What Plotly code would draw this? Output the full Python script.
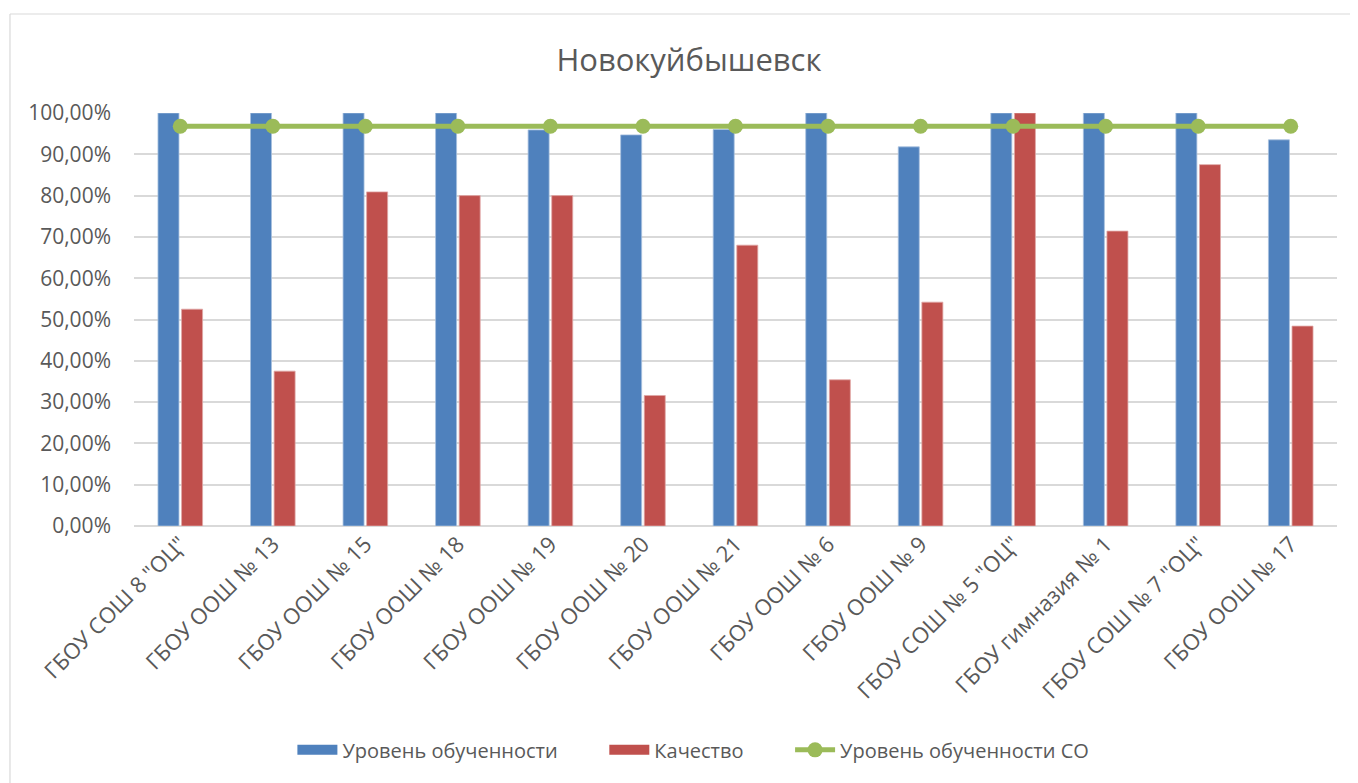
import plotly.graph_objects as go

categories = ['ГБОУ СОШ 8 "ОЦ"', 'ГБОУ ООШ № 13', 'ГБОУ ООШ № 15', 'ГБОУ ООШ № 18',
              'ГБОУ ООШ № 19', 'ГБОУ ООШ № 20', 'ГБОУ ООШ № 21', 'ГБОУ ООШ № 6',
              'ГБОУ ООШ № 9', 'ГБОУ СОШ № 5 "ОЦ"', 'ГБОУ гимназия № 1',
              'ГБОУ СОШ № 7 "ОЦ"', 'ГБОУ ООШ № 17']
uroven = [1.0, 1.0, 1.0, 1.0, 0.959, 0.947, 0.960, 1.0, 0.918, 1.0, 1.0, 1.0, 0.935]
kachestvo = [0.525, 0.375, 0.809, 0.800, 0.800, 0.316, 0.680, 0.354, 0.542, 1.0, 0.714, 0.875, 0.484]
uroven_so = [0.968] * 13

FONT = "Open Sans, sans-serif"
GREY = "#595959"
BLUE = "#4F81BD"
RED = "#C0504D"
GREEN = "#9BBB59"
PAD = "\u00a0" * 8

fig = go.Figure()
fig.add_trace(go.Bar(x=categories, y=uroven, name="Уровень обученности", showlegend=False,
                     marker=dict(color=BLUE, line=dict(color="#A7C0DE", width=0.8))))
fig.add_trace(go.Bar(x=categories, y=kachestvo, name="Качество", showlegend=False,
                     marker=dict(color=RED, line=dict(color="#DFA7A6", width=0.8))))
fig.add_trace(go.Scatter(x=categories, y=uroven_so, name="Уровень обученности СО",
                         mode="lines+markers", showlegend=False,
                         line=dict(color=GREEN, width=5),
                         marker=dict(color=GREEN, size=15)))
# legend entries (Excel-style wide swatches)
fig.add_trace(go.Scatter(x=[None], y=[None], mode="lines", name="Уровень обученности" + PAD,
                         line=dict(color=BLUE, width=14), legendrank=1))
fig.add_trace(go.Scatter(x=[None], y=[None], mode="lines", name="Качество" + PAD,
                         line=dict(color=RED, width=14), legendrank=2))
fig.add_trace(go.Scatter(x=[None], y=[None], mode="lines+markers", name="Уровень обученности СО",
                         line=dict(color=GREEN, width=5), marker=dict(color=GREEN, size=15),
                         legendrank=3))

fig.update_layout(
    width=1350, height=775,
    margin=dict(l=126, r=21, t=105, b=257),
    paper_bgcolor="white", plot_bgcolor="white",
    separators=", ",
    barmode="group", bargap=0.49, bargroupgap=0.11,
    font=dict(family=FONT, color=GREY, size=20),
    title=dict(text="Новокуйбышевск", x=0.5044, xanchor="center", y=0.933, yanchor="middle",
               font=dict(family=FONT, size=31, color=GREY)),
    legend=dict(orientation="h", x=0.465, xanchor="center", y=-0.542, yanchor="middle",
                font=dict(family=FONT, size=20, color=GREY), itemwidth=40,
                traceorder="normal"),
    xaxis=dict(range=[-0.5, len(categories) - 0.5], tickangle=-45, showgrid=False,
               showline=False, ticks="", automargin=False,
               tickfont=dict(family=FONT, size=22, color=GREY)),
    yaxis=dict(range=[0, 1.0], dtick=0.1, tickformat=".2%", showgrid=True, automargin=False,
               gridcolor="#D9D9D9", gridwidth=1.5, zeroline=True, zerolinecolor="#D9D9D9",
               zerolinewidth=1.5, showline=False, ticks="", ticklabelstandoff=22,
               tickfont=dict(family=FONT, size=21, color=GREY)),
    shapes=[
        dict(type="line", xref="paper", yref="paper", x0=-0.1031, x1=1.05, y0=1.2397, y1=1.2397,
             line=dict(color="#D9D9D9", width=1.2)),
        dict(type="line", xref="paper", yref="paper", x0=-0.1031, x1=-0.1031, y0=1.2397, y1=-0.7,
             line=dict(color="#D9D9D9", width=1.2)),
    ],
)

fig.write_html("out.html")
